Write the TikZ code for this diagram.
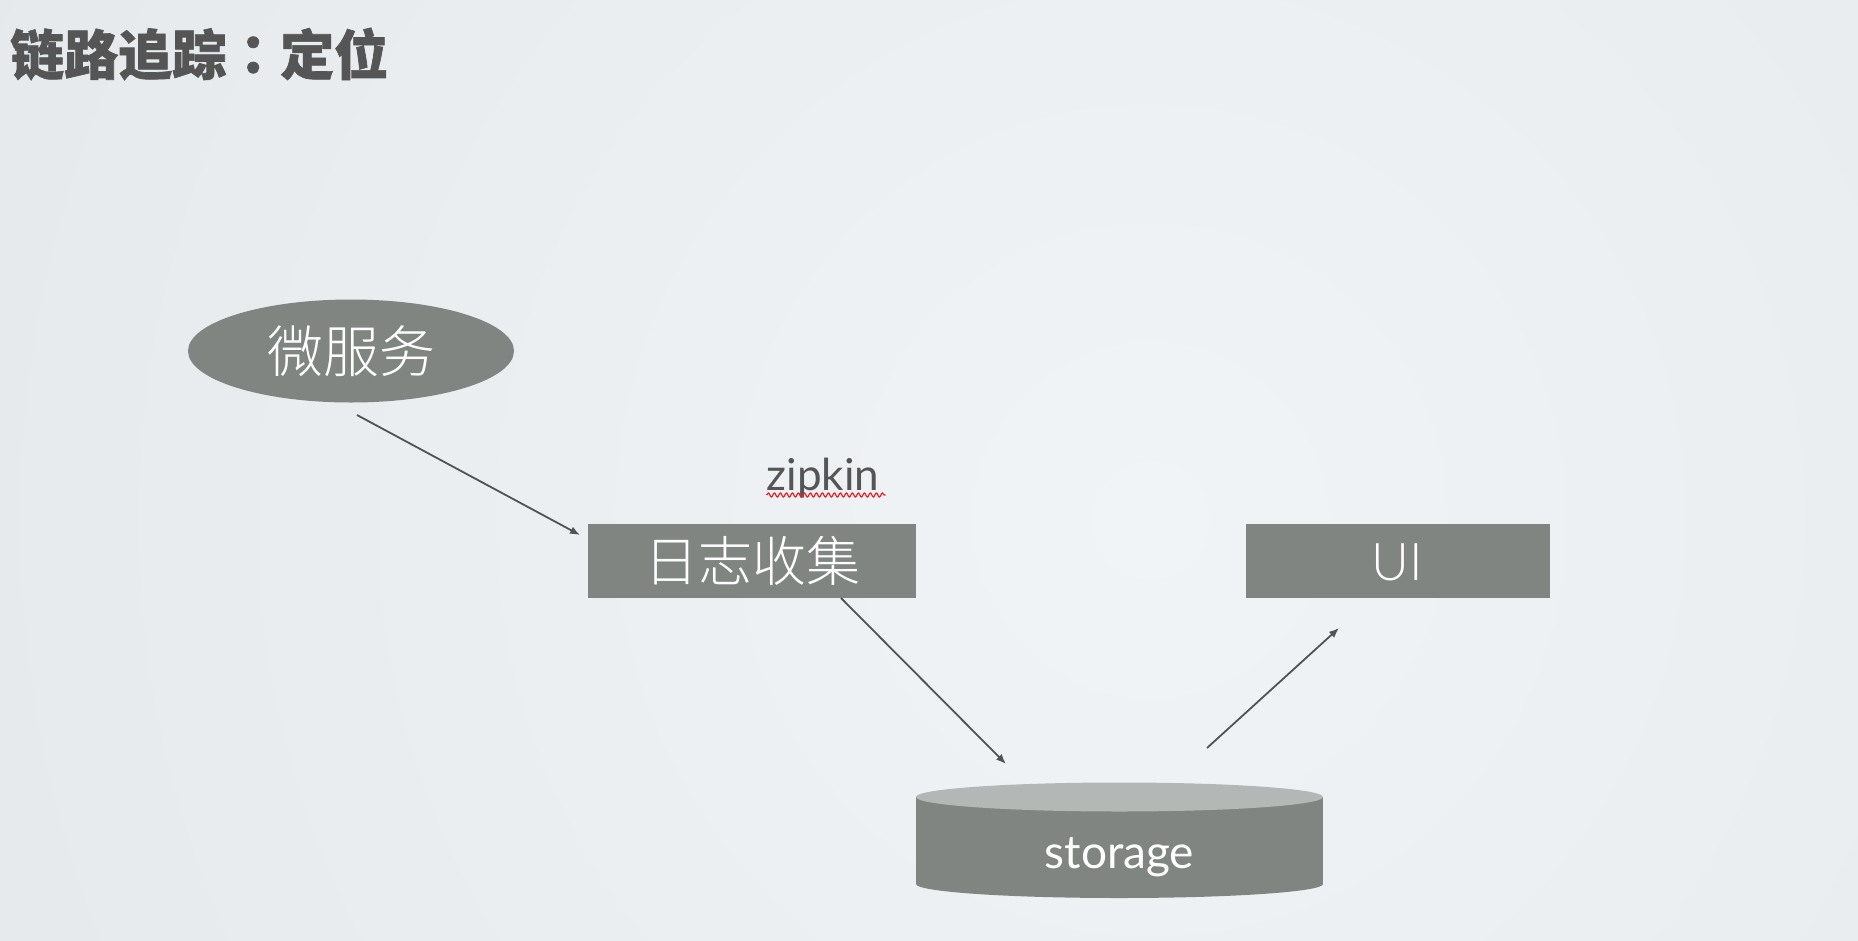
\documentclass[tikz,border=0pt]{standalone}
\usepackage{fontspec}
\setmainfont{Lato}
\newfontfamily\cjk{Noto Sans CJK SC}
\newfontfamily\cjkpunct{Noto Sans CJK TC}
\IfFontExistsTF{Noto Sans CJK SC Light}{\newfontfamily\cjklight{Noto Sans CJK SC Light}}{\newfontfamily\cjklight{Noto Sans CJK SC}}
\IfFontExistsTF{Lato Light}{\newfontfamily\latolight{Lato Light}}{\newfontfamily\latolight{Lato}}
\usetikzlibrary{shapes.geometric,arrows.meta,decorations.pathmorphing}
\definecolor{boxgray}{RGB}{128,133,130}
\definecolor{topgray}{RGB}{179,183,181}
\definecolor{arrowgray}{RGB}{80,83,83}
\definecolor{titlegray}{RGB}{85,85,85}
\definecolor{bgin}{RGB}{241,244,246}
\definecolor{bgout}{RGB}{218,223,226}
\definecolor{wavered}{RGB}{235,30,40}
\tikzset{
  shapebox/.style={fill=boxgray, draw=none, inner sep=0pt, text=white},
  conn/.style={draw=arrowgray, line width=1.8pt, -{Latex[length=10pt,width=8pt]}},
}
\begin{document}
\begin{tikzpicture}[x=1pt,y=-1pt]
\useasboundingbox (0,0) rectangle (1858,940);
\begin{scope}
\clip (0,0) rectangle (1858,940);
\fill[bgout] (0,0) rectangle (1858,940);
\shade[inner color=bgin, outer color=bgout] (1150,520) circle (2500);
\end{scope}
% title
\node[anchor=west, inner sep=0pt, text=titlegray, font=\cjk\bfseries\addfontfeature{FakeBold=1.2}\fontsize{54}{60}\selectfont] (title) at (10,54) {链路追踪{\cjkpunct\bfseries\addfontfeature{FakeBold=1.2}：}定位};
% microservice ellipse
\node[shapebox, ellipse, minimum width=326pt, minimum height=103pt, font=\cjklight\fontsize{56}{60}\selectfont] (ms) at (351,351) {微服务};
% log collection box
\node[shapebox, rectangle, minimum width=328pt, minimum height=74pt, font=\cjklight\fontsize{54}{60}\selectfont] (log) at (752,561) {日志收集};
% UI box
\node[shapebox, rectangle, minimum width=304pt, minimum height=74pt] (ui) at (1398,561) {};
\node[anchor=base, inner sep=0pt, text=white, font=\latolight\fontsize{52}{56}\selectfont] (uitext) at (1397,580) {UI};
% zipkin label
\node[anchor=base, inner sep=0pt, text=titlegray, font=\fontsize{44}{50}\selectfont] (zip) at (823,490) {zipkin};
\draw[wavered, line width=1.2pt, decorate, decoration={snake, amplitude=2pt, segment length=6pt}] (zip.base west) ++(0,5) -- ++(119,0);
% storage cylinder
\fill[boxgray] (916,797) rectangle (1323,884);
\fill[boxgray] (1119.5,884) ellipse[x radius=203.5, y radius=14];
\fill[topgray] (1119.5,797) ellipse[x radius=203.5, y radius=14.5];
\node[anchor=base, inner sep=0pt, text=white, font=\fontsize{46}{52}\selectfont] (st) at (1119.5,868) {storage};
% connector ends
\coordinate (a1s) at (357,415);
\coordinate (a1e) at (580,535);
\coordinate (a2s) at (841,598);
\coordinate (a2e) at (1006,764);
\coordinate (a3s) at (1207,748);
\coordinate (a3e) at (1339,628);
\draw[conn] (a1s) -- (a1e);
\draw[conn] (a2s) -- (a2e);
\draw[conn] (a3s) -- (a3e);
\end{tikzpicture}
\end{document}
